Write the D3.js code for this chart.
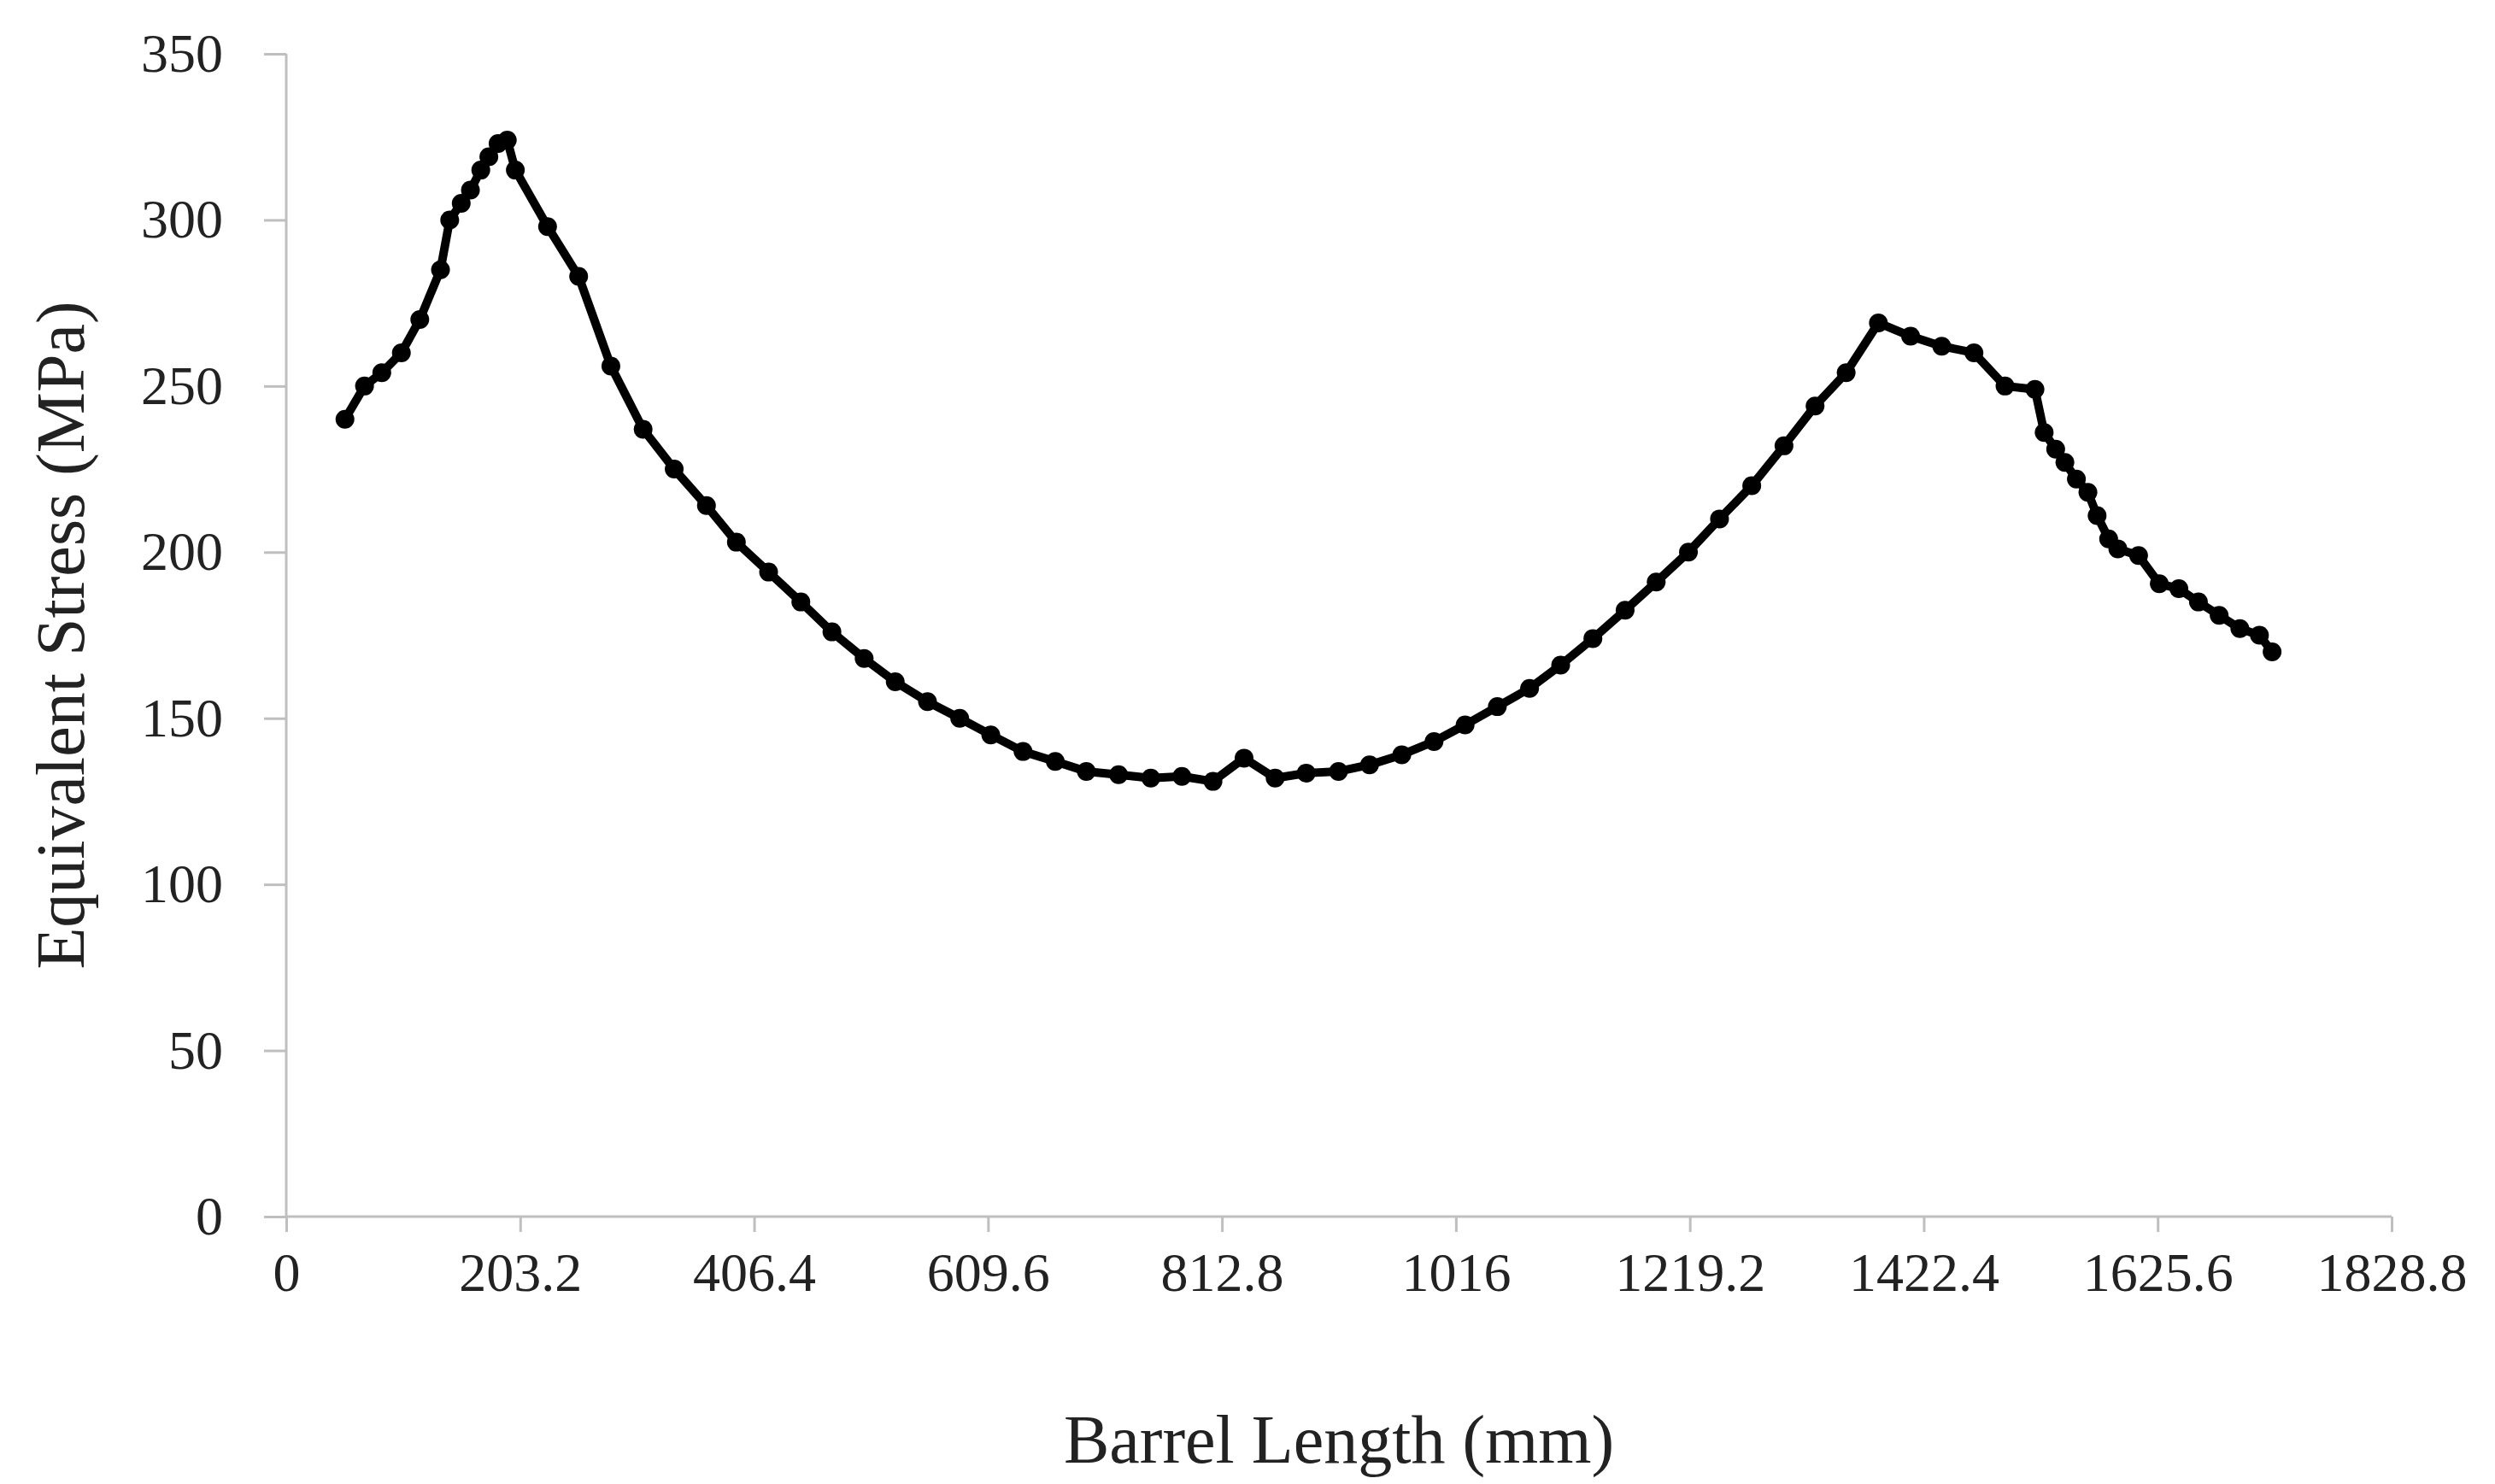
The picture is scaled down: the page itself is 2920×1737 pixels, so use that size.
<!DOCTYPE html>
<html><head><meta charset="utf-8">
<script src="https://cdn.jsdelivr.net/npm/d3@7"></script>
<style>body{margin:0;background:#fff}</style></head>
<body><svg id="c" width="2920" height="1737"></svg>
<script>
const lengthMm=[51,68,83,100,116,134,142,152,160,169,176,184,192,199,227,254,282,310,337,365,391,419,447,474,502,529,557,585,612,640,668,695,723,751,778,805,832,859,886,914,941,969,997,1024,1052,1080,1107,1135,1163,1190,1218,1245,1273,1301,1328,1355,1383,1411,1438,1466,1493,1519,1527,1537,1545,1555,1565,1573,1583,1591,1609,1627,1644,1661,1679,1697,1714,1725];
const stressMPa=[240,250,254,260,270,285,300,305,309,315,319,323,324,315,298,283,256,237,225,214,203,194,185,176,168,161,155,150,145,140,137,134,133,132,132.5,131,138,132,133.5,134,136,139,143,148,153.5,159,166,174,182.5,191,200,210,220,232,244,254,269,265,262,260,250,249,236,231,227,222,218,211,204,201,199,190.5,189,185,181,177,175,170];
const xTicks=[0,203.2,406.4,609.6,812.8,1016,1219.2,1422.4,1625.6,1828.8];
const yTicks=[0,50,100,150,200,250,300,350];
const svg=d3.select("#c");
const L=335,R=2799,T=63,B=1424;
const x=d3.scaleLinear().domain([0,1828.8]).range([L,R]);
const y=d3.scaleLinear().domain([0,350]).range([B,T]);
const font="'Liberation Serif','DejaVu Serif',serif";
const gx=svg.append("g").attr("transform",`translate(0,${B})`)
 .call(d3.axisBottom(x).tickValues(xTicks).tickSize(18).tickPadding(24).tickFormat(d=>String(d)));
const gy=svg.append("g").attr("transform",`translate(${L},0)`)
 .call(d3.axisLeft(y).tickValues(yTicks).tickSize(26).tickPadding(48));
[gx,gy].forEach(g=>{g.selectAll("path,line").attr("stroke","#bfbfbf").attr("stroke-width",3);
 g.selectAll("text").attr("font-family",font).attr("font-size",64).attr("fill","#222");});
gx.select(".domain").attr("d",`M${L},0H${R}`);
gy.select(".domain").attr("d",`M0,${B}V${T}`);
const data=lengthMm.map((d,i)=>[d,stressMPa[i]]);
svg.append("path").datum(data).attr("fill","none").attr("stroke","#000").attr("stroke-width",10)
 .attr("stroke-linejoin","round").attr("d",d3.line().x(d=>x(d[0])).y(d=>y(d[1])));
svg.append("g").selectAll("circle").data(data).join("circle")
 .attr("cx",d=>x(d[0])).attr("cy",d=>y(d[1])).attr("r",11).attr("fill","#000");
svg.append("text").attr("x",(L+R)/2).attr("y",1712).attr("text-anchor","middle")
 .attr("font-family",font).attr("font-size",80).attr("fill","#222").text("Barrel Length (mm)");
svg.append("text").attr("transform",`translate(98,${(T+B)/2}) rotate(-90)`).attr("text-anchor","middle")
 .attr("font-family",font).attr("font-size",80).attr("fill","#222").text("Equivalent Stress (MPa)");
</script></body></html>
